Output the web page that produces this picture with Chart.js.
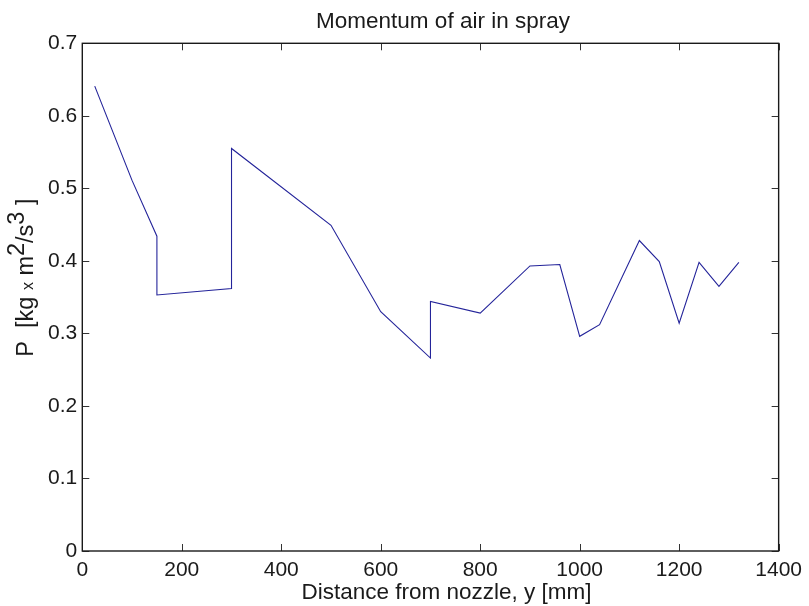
<!DOCTYPE html>
<html><head><meta charset="utf-8">
<script src="https://cdn.jsdelivr.net/npm/chart.js@4.4.1/dist/chart.umd.min.js"></script>
<style>html,body{margin:0;padding:0;background:#fff;overflow:hidden}#wrap{width:809px;height:606px;position:relative}</style>
</head><body><div id="wrap"><canvas id="c" width="809" height="606"></canvas></div>
<script>
// ---- data ----
const distanceMm = [25, 100, 150, 150, 300, 300, 500, 600, 700, 700, 800, 900, 960, 1000, 1040, 1120, 1160, 1200, 1240, 1280, 1320];
const momentum   = [0.641, 0.511, 0.434, 0.353, 0.362, 0.555, 0.449, 0.330, 0.266, 0.344, 0.328, 0.393, 0.395, 0.296, 0.312, 0.428, 0.399, 0.314, 0.398, 0.365, 0.398];
const xTickValues = [0, 200, 400, 600, 800, 1000, 1200, 1400];
const xTickLabels = ['0', '200', '400', '600', '800', '1000', '1200', '1400'];
const yTickValues = [0, 0.1, 0.2, 0.3, 0.4, 0.5, 0.6, 0.7];
const yTickLabels = ['0', '0.1', '0.2', '0.3', '0.4', '0.5', '0.6', '0.7'];
const chartTitle = 'Momentum of air in spray';
const xAxisTitle = 'Distance from nozzle, y [mm]';
const yAxisTitleParts = [
  {t: 'P', size: 23.5, rise: 0},
  {t: '  [kg ', size: 23.5, rise: 0},
  {t: 'x', size: 16, rise: 0},
  {t: ' m', size: 23.5, rise: 0},
  {t: '2', size: 23.5, rise: 9},
  {t: '/s', size: 23.5, rise: 0},
  {t: '3', size: 23.5, rise: 9},
  {t: ' ]', size: 23.5, rise: 0}
];

const FONT = '"Liberation Sans", Arial, Helvetica, sans-serif';
const points = distanceMm.map((x, i) => ({x: x, y: momentum[i]}));

const frame = {
  id: 'frame',
  afterDraw(chart) {
    const ctx = chart.ctx, a = chart.chartArea;
    const xs = chart.scales.x, ys = chart.scales.y;
    ctx.save();
    // inward ticks on all four sides
    ctx.strokeStyle = '#333';
    ctx.lineWidth = 1;
    const tl = 7;
    ctx.beginPath();
    xTickValues.forEach(v => {
      const p = Math.round(xs.getPixelForValue(v)) + 0.5;
      ctx.moveTo(p, a.bottom); ctx.lineTo(p, a.bottom - tl);
      ctx.moveTo(p, a.top); ctx.lineTo(p, a.top + tl);
    });
    yTickValues.forEach(v => {
      const p = Math.round(ys.getPixelForValue(v)) + 0.5;
      ctx.moveTo(a.left, p); ctx.lineTo(a.left + tl, p);
      ctx.moveTo(a.right, p); ctx.lineTo(a.right - tl, p);
    });
    ctx.stroke();
    // box
    ctx.strokeStyle = '#1a1a1a';
    ctx.lineWidth = 1.4;
    ctx.strokeRect(a.left, a.top, a.right - a.left, a.bottom - a.top);
    // title
    ctx.fillStyle = '#1a1a1a';
    ctx.textAlign = 'center';
    ctx.textBaseline = 'alphabetic';
    ctx.font = '22.5px ' + FONT;
    ctx.fillText(chartTitle, 443, 27.5);
    // x axis title
    ctx.fillText(xAxisTitle, 446.5, 599.3);
    // y axis title (rotated, with superscripts)
    ctx.translate(33.3, 356.7);
    ctx.rotate(-Math.PI / 2);
    ctx.textAlign = 'left';
    let cx = 0;
    yAxisTitleParts.forEach(p => {
      ctx.font = p.size + 'px ' + FONT;
      ctx.fillText(p.t, cx, -p.rise);
      cx += ctx.measureText(p.t).width;
    });
    ctx.restore();
  }
};

new Chart(document.getElementById('c'), {
  type: 'scatter',
  data: {
    datasets: [{
      data: points,
      showLine: true,
      borderColor: '#24249a',
      borderWidth: 1.1,
      pointRadius: 0,
      pointHoverRadius: 0,
      tension: 0,
      fill: false
    }]
  },
  options: {
    responsive: false,
    animation: false,
    devicePixelRatio: 1,
    layout: {padding: {left: 0, right: 25.3, top: 43.3, bottom: 0}},
    plugins: {legend: {display: false}, title: {display: false}, tooltip: {enabled: false}},
    scales: {
      x: {
        type: 'linear', min: 0, max: 1400,
        afterFit: s => { s.height = 55; },
        afterBuildTicks: s => { s.ticks = xTickValues.map(v => ({value: v})); },
        grid: {display: false, drawTicks: false},
        border: {display: false},
        ticks: {
          padding: 7, color: '#1a1a1a', maxRotation: 0, autoSkip: false,
          font: {family: FONT, size: 21},
          callback: (v) => xTickLabels[xTickValues.indexOf(v)]
        }
      },
      y: {
        type: 'linear', min: 0, max: 0.7,
        afterFit: s => { s.width = 82.3; },
        afterBuildTicks: s => { s.ticks = yTickValues.map(v => ({value: v})); },
        grid: {display: false, drawTicks: false},
        border: {display: false},
        ticks: {
          padding: 5, color: '#1a1a1a', autoSkip: false,
          font: {family: FONT, size: 21},
          callback: (v) => yTickLabels[yTickValues.indexOf(v)]
        }
      }
    }
  },
  plugins: [frame]
});
</script></body></html>
